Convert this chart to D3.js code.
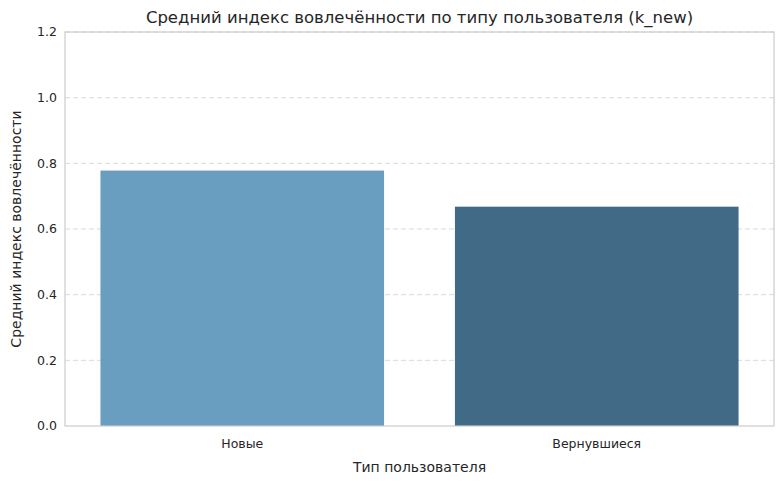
<!DOCTYPE html>
<html><head><meta charset="utf-8">
<script src="https://cdn.jsdelivr.net/npm/d3@7"></script>
<style>body{margin:0;background:#fff}text{font-family:"DejaVu Sans",sans-serif;fill:#262626}</style>
</head><body><svg id="c" width="784" height="484"></svg>
<script>
const categories = ["Новые", "Вернувшиеся"];
const values = [0.778, 0.668];
const colors = ["#6a9ec0", "#416a87"];
const yTicks = [0, 0.2, 0.4, 0.6, 0.8, 1.0, 1.2];

const svg = d3.select("#c");
const m = {l: 65, r: 10, t: 32, b: 58};
const W = 784, H = 484;
const x = d3.scaleBand().domain(categories).range([m.l, W - m.r]).paddingInner(0.2).paddingOuter(0.1);
const y = d3.scaleLinear().domain([0, 1.2]).range([H - m.b, m.t]);

svg.append("g").selectAll("line").data(yTicks.slice(1)).join("line")
  .attr("x1", m.l).attr("x2", W - m.r).attr("y1", d => y(d)).attr("y2", d => y(d))
  .attr("stroke", "#d9d9d9").attr("stroke-dasharray", "5,3");

svg.append("g").selectAll("rect").data(categories).join("rect")
  .attr("x", d => x(d)).attr("width", x.bandwidth())
  .attr("y", (d, i) => y(values[i])).attr("height", (d, i) => y(0) - y(values[i]))
  .attr("fill", (d, i) => colors[i]);

svg.append("rect").attr("x", m.l).attr("y", m.t).attr("width", W - m.r - m.l).attr("height", H - m.b - m.t)
  .attr("fill", "none").attr("stroke", "#cccccc").attr("stroke-width", 1.2);

svg.append("g").selectAll("text").data(yTicks).join("text")
  .attr("x", m.l - 8).attr("y", d => y(d)).attr("dy", "0.35em").attr("text-anchor", "end")
  .attr("font-size", 12.5).text(d => d.toFixed(1));

svg.append("g").selectAll("text").data(categories).join("text")
  .attr("x", d => x(d) + x.bandwidth() / 2).attr("y", H - m.b + 22).attr("text-anchor", "middle")
  .attr("font-size", 12.5).text(d => d);

svg.append("text").attr("x", (m.l + W - m.r) / 2).attr("y", 472).attr("text-anchor", "middle")
  .attr("font-size", 14).text("Тип пользователя");
svg.append("text").attr("transform", `translate(21,${(m.t + H - m.b) / 2}) rotate(-90)`).attr("text-anchor", "middle")
  .attr("font-size", 14).text("Средний индекс вовлечённости");
svg.append("text").attr("x", (m.l + W - m.r) / 2).attr("y", 23).attr("text-anchor", "middle")
  .attr("font-size", 16.5).text("Средний индекс вовлечённости по типу пользователя (k_new)");
</script></body></html>
